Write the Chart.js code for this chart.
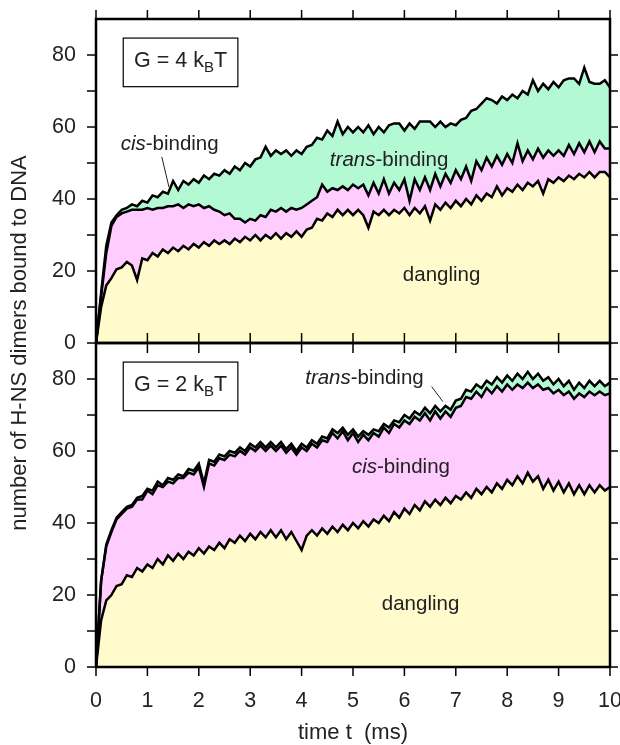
<!DOCTYPE html>
<html>
<head>
<meta charset="utf-8">
<script src="https://cdn.jsdelivr.net/npm/chart.js@4"></script>
<style>
  html, body { margin: 0; padding: 0; background: #fff; }
  #chart { display: block; }
</style>
</head>
<body>
<canvas id="chart" width="620" height="745"></canvas>
<script>
// time axis (ms)
const times = [
  0, 0.1, 0.2, 0.3, 0.4, 0.5, 0.6, 0.7, 0.8, 0.9,
  1, 1.1, 1.2, 1.3, 1.4, 1.5, 1.6, 1.7, 1.8, 1.9,
  2, 2.1, 2.2, 2.3, 2.4, 2.5, 2.6, 2.7, 2.8, 2.9,
  3, 3.1, 3.2, 3.3, 3.4, 3.5, 3.6, 3.7, 3.8, 3.9,
  4, 4.1, 4.2, 4.3, 4.4, 4.5, 4.6, 4.7, 4.8, 4.9,
  5, 5.1, 5.2, 5.3, 5.4, 5.5, 5.6, 5.7, 5.8, 5.9,
  6, 6.1, 6.2, 6.3, 6.4, 6.5, 6.6, 6.7, 6.8, 6.9,
  7, 7.1, 7.2, 7.3, 7.4, 7.5, 7.6, 7.7, 7.8, 7.9,
  8, 8.1, 8.2, 8.3, 8.4, 8.5, 8.6, 8.7, 8.8, 8.9,
  9, 9.1, 9.2, 9.3, 9.4, 9.5, 9.6, 9.7, 9.8, 9.9,
  10
];

// G = 4 kBT panel: number of dimers in each state
const g4Dangling = [
  0, 10, 16, 18, 20.5, 21, 22.5, 21.5, 17.5, 23.5,
  23, 25, 24, 26, 25, 26.5, 25.5, 27, 26, 27.5,
  26.5, 28, 27, 28.5, 27.5, 28.5, 27.5, 29, 28, 29.5,
  28.5, 30, 28.5, 30, 29, 30.5, 29, 30.5, 29.5, 31,
  29.5, 31.5, 32, 34.5, 34, 36, 35, 37, 35.5, 37,
  35.5, 37, 35.5, 32, 36.5, 35.5, 37, 35.5, 37, 36,
  37.5, 35.5, 37.5, 36, 38, 34, 38.5, 37, 39, 37.5,
  39.5, 38, 40, 38.5, 41, 39.5, 41.5, 40.5, 43.5, 41,
  43, 42, 44, 42.5, 44.5, 43.5, 45, 41.5, 45.5, 44.5,
  46, 45, 46.5, 45.5, 47, 46, 47.5, 46, 47.5, 47.5,
  46
];
const g4Cis = [
  0, 3, 9, 14.5, 14.5, 15, 14, 15.5, 19.5, 13.5,
  14.5, 12, 13.5, 11.5, 13, 11.5, 13, 10.5, 12.5, 10.5,
  12, 9.5, 11, 8.5, 9, 7, 8.5, 5.5, 6.5, 4,
  6, 4, 7, 5, 8, 6, 8.5, 6, 8, 6,
  8, 7, 7.5, 6, 10, 6, 8, 5.5, 8, 5.5,
  8.5, 6, 8.5, 9, 8, 6, 8.5, 6, 7.5, 6.5,
  8, 4, 8, 6.5, 8, 8.5, 8.5, 6.5, 8, 7,
  8.5, 7.5, 9, 6.5, 9.5, 8.5, 10, 8.5, 8.5, 8.5,
  9.5, 8, 11.5, 8, 9, 7.5, 9, 10, 8, 7.5,
  7.5, 7, 8.5, 7, 8.5, 7, 8.5, 7, 8.5, 6.5,
  8
];
const g4Trans = [
  0, 1, 2, 1, 0.5, 1, 1, 1.5, 1, 2.5,
  1.5, 4, 3, 4.5, 3.5, 7, 4, 7.5, 5.5, 7.5,
  6, 9, 7.5, 10, 10, 12.5, 11, 14.5, 13.5, 16.5,
  14.5, 17, 16, 19.5, 15, 17, 15, 17, 14.5, 16.5,
  15, 16, 15.5, 16.5, 12.5, 17, 14.5, 19, 14.5, 17.5,
  14.5, 17, 14.5, 19.5, 13.5, 18.5, 13, 19, 16.5, 18.5,
  13.5, 21.5, 14, 19, 15.5, 19, 13, 18, 13, 16.5,
  12.5, 16.5, 13.5, 19.5, 14.5, 18.5, 16.5, 18.5, 14.5, 19,
  15, 19, 12.5, 19.5, 15.5, 22, 16, 20.5, 17, 20.5,
  17.5, 21, 18.5, 21, 16.5, 23.5, 16.5, 19, 16, 19,
  17
];

// G = 2 kBT panel
const g2Dangling = [
  0, 13, 18.5, 20, 22.5, 23, 25.5, 25, 27.5, 26.5,
  28.5, 27.5, 30, 28.5, 31, 29.5, 31.5, 30, 32, 31,
  33, 31.5, 33.5, 32.5, 34.5, 33, 35.5, 34.5, 36.5, 35,
  37, 35.5, 37.5, 36, 38, 36, 38, 35.5, 37.5, 35,
  32.5, 36.5, 38, 36.5, 38.5, 37, 39, 37.5, 39.5, 38,
  40, 38.5, 40.5, 39, 41, 40, 42, 40.5, 43, 41.5,
  44, 42.5, 45, 43.5, 46, 44.5, 46.5, 45, 47, 45.5,
  47.5, 46.5, 48.5, 47, 49.5, 48, 50, 48.5, 51, 49.5,
  52, 50.5, 53, 51, 54, 51.5, 53, 49.5, 52, 49,
  51.5, 48.5, 51, 48, 50.5, 48, 50.5, 48.5, 50.5, 49,
  50
];
const g2Cis = [
  0, 11, 15, 17.5, 18.5, 19.5, 18.5, 19.5, 19, 20,
  20.5, 20.5, 20.5, 21.5, 20.5, 21.5, 21, 22.5, 22, 22.5,
  22.5, 18.5, 23, 23.5, 23.5, 24.5, 23.5, 24, 23.5, 24,
  24, 24.5, 24, 24, 23.5, 24, 23.5, 24, 23.5, 24,
  28.5, 23.5, 24, 24.5, 24.5, 25.5, 26, 26, 26, 25,
  25, 24, 24, 24, 24, 24, 24.5, 24.5, 24.5, 25,
  24.5, 25, 24.5, 25, 24.5, 24, 24.5, 24, 24, 24,
  24.5, 26, 26.5, 27.5, 27, 27, 27.5, 27.5, 27, 27,
  26.5, 26.5, 25.5, 26.5, 25, 26, 25.5, 27.5, 25.5, 27,
  25.5, 27, 25.5, 26.5, 25.5, 27, 26, 27, 26, 26.5,
  26
];
const g2Trans = [
  0, 0, 0.5, 0.5, 0.5, 0.5, 0.5, 0.5, 0.5, 1,
  0.5, 1, 1, 0.5, 1, 1, 1, 0.5, 1, 1,
  1, 1, 1, 1, 1, 1, 1, 1, 1, 1,
  1, 1, 1, 1, 1, 1, 1, 1, 1, 1,
  1, 1, 1, 1, 1, 1, 1, 1.5, 1, 1.5,
  1, 1.5, 1, 1.5, 1, 1.5, 1, 1.5, 1, 1.5,
  1.5, 1.5, 1.5, 1.5, 1.5, 2, 1.5, 2, 1.5, 2,
  2, 2, 2, 2, 2, 2.5, 2, 2.5, 2.5, 2.5,
  2.5, 2.5, 3, 2.5, 3, 2.5, 3, 2.5, 3, 2.5,
  3, 2.5, 3, 2.5, 3, 2.5, 3, 2.5, 3, 2.5,
  3
];

const xTicks = [0, 1, 2, 3, 4, 5, 6, 7, 8, 9, 10];
const yLabelTicks = [0, 20, 40, 60, 80];

const FONT = '"Liberation Sans", Arial, Helvetica, sans-serif';
const TEXT = '#222';
const YELLOW = '#fffbcc';
const PINK = '#ffccff';
const GREEN = '#b3f9d3';

// text placed in data coordinates of each panel
const panelNotes = {
  yTop: {
    label: '4',
    texts: [
      { x: 0.48, y: 53.6, parts: [['cis', true], ['-binding', false]] },
      { x: 4.55, y: 49.2, parts: [['trans', true], ['-binding', false]] },
      { x: 5.97, y: 17.3, parts: [['dangling', false]] }
    ],
    leader: [[1.28, 51.7], [1.42, 43.3]]
  },
  yBot: {
    label: '2',
    texts: [
      { x: 4.07, y: 78.6, parts: [['trans', true], ['-binding', false]] },
      { x: 4.98, y: 53.9, parts: [['cis', true], ['-binding', false]] },
      { x: 5.56, y: 15.8, parts: [['dangling', false]] }
    ],
    leader: [[6.53, 77.9], [6.75, 73.7]]
  }
};

function series(values) {
  return times.map((t, i) => ({ x: t, y: values[i] }));
}

function layer(label, values, axis, color, fill) {
  return {
    label: label,
    data: series(values),
    yAxisID: axis,
    backgroundColor: color,
    borderColor: '#000',
    borderWidth: 2.5,
    pointRadius: 0,
    tension: 0,
    fill: fill
  };
}

function drawParts(ctx, parts, x, y, size) {
  let cx = x;
  parts.forEach(([txt, italic]) => {
    ctx.font = (italic ? 'italic ' : '') + size + 'px ' + FONT;
    ctx.fillText(txt, cx, y);
    cx += ctx.measureText(txt).width;
  });
}

function noPadding(s) {
  s.paddingTop = 0;
  s.paddingBottom = 0;
  s.paddingLeft = 0;
  s.paddingRight = 0;
}

const panelPlugin = {
  id: 'panels',
  afterDraw(chart) {
    const ctx = chart.ctx;
    const xs = chart.scales.x;
    const area = chart.chartArea;
    ctx.save();
    ['yTop', 'yBot'].forEach(id => {
      const ys = chart.scales[id];
      const top = ys.top, bot = ys.bottom;

      // tick marks
      ctx.strokeStyle = '#000';
      ctx.lineWidth = 1.5;
      ctx.beginPath();
      for (let v = 0; v <= 80; v += 10) {
        const py = ys.getPixelForValue(v);
        ctx.moveTo(area.left - 9, py); ctx.lineTo(area.left, py);
        ctx.moveTo(area.right, py); ctx.lineTo(area.right + 8, py);
      }
      xTicks.forEach(t => {
        const px = xs.getPixelForValue(t);
        if (id === 'yTop') {
          ctx.moveTo(px, top - 9); ctx.lineTo(px, top);
          ctx.moveTo(px, bot); ctx.lineTo(px, bot - 10);
        } else {
          ctx.moveTo(px, top); ctx.lineTo(px, top + 10);
          ctx.moveTo(px, bot); ctx.lineTo(px, bot + 9);
        }
      });
      ctx.stroke();

      // frame
      ctx.lineWidth = 2.5;
      ctx.strokeRect(area.left, top, area.right - area.left, bot - top);

      const note = panelNotes[id];

      // G box
      const bx0 = xs.getPixelForValue(0.53), bx1 = xs.getPixelForValue(2.76);
      const by0 = ys.getPixelForValue(84.7), by1 = ys.getPixelForValue(71.2);
      ctx.lineWidth = 1.2;
      ctx.strokeRect(bx0, by0, bx1 - bx0, by1 - by0);
      ctx.fillStyle = TEXT;
      ctx.textBaseline = 'alphabetic';
      ctx.textAlign = 'left';
      ctx.font = '21.5px ' + FONT;
      const main = 'G = ' + note.label + ' k';
      const wMain = ctx.measureText(main).width;
      ctx.font = '15px ' + FONT;
      const wSub = ctx.measureText('B').width;
      ctx.font = '21.5px ' + FONT;
      const wT = ctx.measureText('T').width;
      let tx = (bx0 + bx1) / 2 - (wMain + wSub + wT) / 2;
      const ty = (by0 + by1) / 2 + 5;
      ctx.fillText(main, tx, ty);
      tx += wMain;
      ctx.font = '15px ' + FONT;
      ctx.fillText('B', tx, ty + 5);
      tx += wSub;
      ctx.font = '21.5px ' + FONT;
      ctx.fillText('T', tx, ty);

      // labels
      note.texts.forEach(n => {
        drawParts(ctx, n.parts, xs.getPixelForValue(n.x), ys.getPixelForValue(n.y), 20.5);
      });
      ctx.lineWidth = 1;
      ctx.strokeStyle = '#222';
      ctx.beginPath();
      ctx.moveTo(xs.getPixelForValue(note.leader[0][0]), ys.getPixelForValue(note.leader[0][1]));
      ctx.lineTo(xs.getPixelForValue(note.leader[1][0]), ys.getPixelForValue(note.leader[1][1]));
      ctx.stroke();
    });

    // axis titles
    const yt = chart.scales.yTop, yb = chart.scales.yBot;
    ctx.fillStyle = TEXT;
    ctx.font = '22px ' + FONT;
    ctx.textAlign = 'center';
    ctx.textBaseline = 'middle';
    ctx.save();
    ctx.translate(20, (yt.top + yb.bottom) / 2);
    ctx.rotate(-Math.PI / 2);
    ctx.fillText('number of H-NS dimers bound to DNA', 0, 0);
    ctx.restore();
    ctx.fillText('time t  (ms)', (area.left + area.right) / 2, 733);
    ctx.restore();
  }
};

function yAxis() {
  return {
    type: 'linear',
    position: 'left',
    stack: 'panels',
    stackWeight: 1,
    stacked: true,
    min: 0,
    max: 90,
    afterFit: s => { s.width = 96; noPadding(s); },
    afterBuildTicks: s => { s.ticks = yLabelTicks.map(v => ({ value: v })); },
    grid: { display: false, drawTicks: false },
    border: { display: false },
    ticks: {
      padding: 20,
      color: TEXT,
      font: { family: FONT, size: 21.5 }
    }
  };
}

new Chart(document.getElementById('chart'), {
  type: 'line',
  data: {
    datasets: [
      layer('dangling', g4Dangling, 'yTop', YELLOW, 'origin'),
      layer('cis-binding', g4Cis, 'yTop', PINK, '-1'),
      layer('trans-binding', g4Trans, 'yTop', GREEN, '-1'),
      layer('dangling', g2Dangling, 'yBot', YELLOW, 'origin'),
      layer('cis-binding', g2Cis, 'yBot', PINK, '-1'),
      layer('trans-binding', g2Trans, 'yBot', GREEN, '-1')
    ]
  },
  options: {
    responsive: false,
    animation: false,
    layout: { padding: { left: 0, right: 10, top: 19, bottom: 0 } },
    plugins: {
      legend: { display: false },
      tooltip: { enabled: false },
      filler: { drawTime: 'beforeDatasetsDraw' }
    },
    scales: {
      x: {
        type: 'linear',
        min: 0,
        max: 10,
        afterFit: s => { s.height = 78; noPadding(s); },
        afterBuildTicks: s => { s.ticks = xTicks.map(v => ({ value: v })); },
        grid: { display: false, drawTicks: false },
        border: { display: false },
        ticks: {
          padding: 21,
          color: TEXT,
          font: { family: FONT, size: 21.5 }
        }
      },
      yBot: yAxis(),
      yTop: yAxis()
    }
  },
  plugins: [panelPlugin]
});
</script>
</body>
</html>
